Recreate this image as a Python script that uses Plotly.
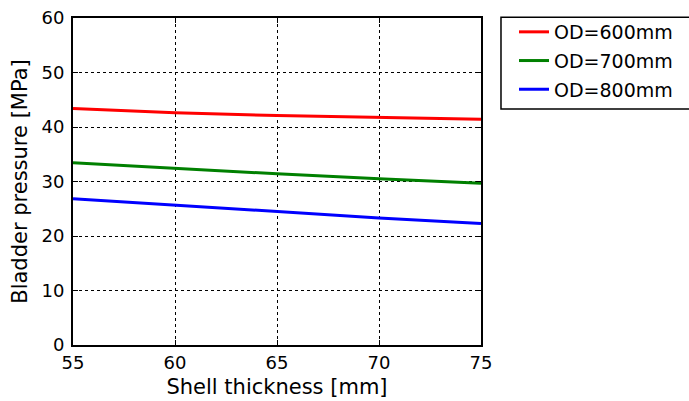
import plotly.graph_objects as go

thickness = [55, 60, 65, 70, 75]
od600 = [43.4, 42.6, 42.1, 41.8, 41.4]
od700 = [33.45, 32.4, 31.4, 30.5, 29.7]
od800 = [26.85, 25.7, 24.5, 23.3, 22.3]
names = ["OD=600mm", "OD=700mm", "OD=800mm"]
colors = ["#ff0000", "#008000", "#0000ff"]

fig = go.Figure()
for i, (name, vals, c) in enumerate(zip(names, [od600, od700, od800], colors)):
    fig.add_trace(go.Scatter(x=thickness, y=vals, mode="lines", name=name,
                             legendgroup="g%d" % i,
                             line=dict(color=c, width=3)))

font = "DejaVu Sans, sans-serif"
axis_common = dict(showline=True, linecolor="black", linewidth=2, mirror="allticks",
                   ticks="inside", ticklen=5, tickcolor="black", tickwidth=1,
                   showgrid=True, gridcolor="black", griddash="dot", gridwidth=1,
                   zeroline=False, automargin=False,
                   tickfont=dict(family=font, size=18, color="black"))

fig.update_layout(
    width=689, height=401,
    margin=dict(l=73, r=208, t=18, b=56),
    paper_bgcolor="white", plot_bgcolor="white",
    font=dict(family=font, color="black"),
    xaxis=dict(range=[55, 75], tickvals=[55, 60, 65, 70, 75], ticklabelstandoff=0,
               title=dict(text="Shell thickness [mm]", font=dict(family=font, size=21), standoff=8),
               **axis_common),
    yaxis=dict(range=[0, 60], tickvals=[0, 10, 20, 30, 40, 50, 60], ticklabelstandoff=3,
               title=dict(text="Bladder pressure [MPa]", font=dict(family=font, size=21), standoff=8),
               **axis_common),
    legend=dict(xref="container", yref="container", x=0.746, y=0.9676,
                xanchor="left", yanchor="top",
                font=dict(family=font, size=19, color="black"),
                bgcolor="rgba(0,0,0,0)", borderwidth=0, tracegroupgap=1),
    shapes=[dict(type="rect", xref="paper", yref="paper",
                 x0=1.049, x1=1.6, y0=0.722, y1=1.002,
                 line=dict(color="black", width=1.5), fillcolor="rgba(0,0,0,0)")],
)

fig.write_html("out.html")
